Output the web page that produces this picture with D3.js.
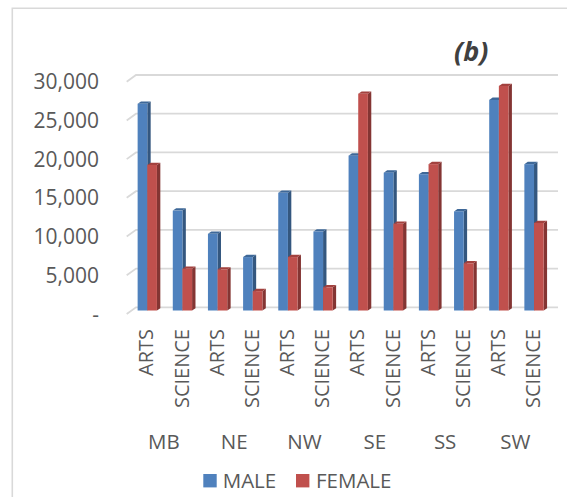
<!DOCTYPE html>
<html>
<head>
<meta charset="utf-8">
<script src="https://cdn.jsdelivr.net/npm/d3@7"></script>
<style>
  html, body { margin: 0; padding: 0; background: #fff; }
  svg { display: block; }
</style>
</head>
<body>
<svg id="chart" width="567" height="497"></svg>
<script>
// ---- data ----
const regions = ["MB", "NE", "NW", "SE", "SS", "SW"];
const subjects = ["ARTS", "SCIENCE"];
const male   = [26700, 12900, 9900, 6900, 15200, 10200, 20000, 17800, 17600, 12800, 27200, 18900];
const female = [18800, 5400, 5300, 2500, 6900, 3000, 28000, 11200, 18900, 6100, 29000, 11300];
const yTicks = [0, 5000, 10000, 15000, 20000, 25000, 30000];
const seriesNames = ["MALE", "FEMALE"];

// ---- build ----
const cats = [];
regions.forEach(r => subjects.forEach(s => cats.push({ region: r, subject: s, key: r + "|" + s })));
cats.forEach((c, i) => { c.male = male[i]; c.female = female[i]; });

const svg = d3.select("#chart");
const FONT = "'Open Sans', 'Noto Sans', sans-serif";
const TXT = "#595959";
const GRID = "#d9d9d9";

svg.append("rect").attr("width", 567).attr("height", 497).attr("fill", "#fff");
// frame
svg.append("path").attr("d", "M12.3,497 L12.3,8.3 L567,8.3")
  .attr("fill", "none").attr("stroke", GRID).attr("stroke-width", 1.6);

// scales
const yBack = d3.scaleLinear().domain([0, 30000]).range([307.3, 75]);
const frontShift = 3.2;               // bar front plane below back wall
const wallDX = 9.3, wallDY = 6.7;     // wall depth offset (front-left)
const backX0 = 136, backX1 = 558;
const x = d3.scaleBand().domain(cats.map(c => c.key)).range([129.7, 551.6]);
const barW = 9.65;
const dDX = 3.4, dDY = -2.3;          // bar depth

// gridlines
const grid = svg.append("g");
yTicks.forEach(v => {
  const yb = yBack(v);
  grid.append("path")
    .attr("d", `M${backX0 - wallDX},${yb + wallDY} L${backX0},${yb} L${backX1},${yb}`)
    .attr("fill", "none").attr("stroke", GRID).attr("stroke-width", 1.8);
});

// y labels
const fmt = d3.format(",");
svg.append("g").selectAll("text").data(yTicks).join("text")
  .attr("x", 99).attr("y", d => yBack(d) + wallDY)
  .attr("dy", "0.36em")
  .attr("text-anchor", "end")
  .attr("font-family", FONT).attr("font-size", 21).attr("fill", TXT)
  .text(d => d === 0 ? "-" : fmt(d));

// bars
const colors = {
  male:   { front: "#4f81bd", side: "#34577f", top: "#3e6898" },
  female: { front: "#c0504d", side: "#843533", top: "#a2413e" }
};
const yFront = v => yBack(v) + frontShift;
const bars = svg.append("g");
function drawBar(x0, v, col) {
  const yb = yFront(0), yt = yFront(v), x1 = x0 + barW;
  // side
  bars.append("path")
    .attr("d", `M${x1},${yb} L${x1 + dDX},${yb + dDY} L${x1 + dDX},${yt + dDY} L${x1},${yt} Z`)
    .attr("fill", col.side);
  // top
  bars.append("path")
    .attr("d", `M${x0},${yt} L${x0 + dDX},${yt + dDY} L${x1 + dDX},${yt + dDY} L${x1},${yt} Z`)
    .attr("fill", col.top);
  // front
  bars.append("rect").attr("x", x0).attr("y", yt).attr("width", barW).attr("height", yb - yt)
    .attr("fill", col.front);
}
cats.forEach(c => {
  const cx = x(c.key) + x.bandwidth() / 2;
  drawBar(cx - barW, c.male, colors.male);
  drawBar(cx, c.female, colors.female);
});

// category labels (rotated)
svg.append("g").selectAll("text").data(cats).join("text")
  .attr("transform", d => `translate(${x(d.key) + x.bandwidth() / 2 - 1},329) rotate(-90)`)
  .attr("text-anchor", "end").attr("dy", "0.36em")
  .attr("font-family", FONT).attr("font-size", 20).attr("fill", TXT)
  .text(d => d.subject);

// region labels
svg.append("g").selectAll("text").data(regions).join("text")
  .attr("x", r => (x(r + "|ARTS") + x(r + "|SCIENCE")) / 2 + x.bandwidth() / 2 - 1)
  .attr("y", 449)
  .attr("text-anchor", "middle")
  .attr("font-family", FONT).attr("font-size", 20.5).attr("fill", TXT)
  .text(r => r);

// legend
const leg = svg.append("g");
const legItems = [
  { name: seriesNames[0], color: colors.male.front, sx: 203.3, tx: 222.7 },
  { name: seriesNames[1], color: colors.female.front, sx: 296, tx: 316 }
];
legItems.forEach(it => {
  leg.append("rect").attr("x", it.sx).attr("y", 474).attr("width", 13.4).attr("height", 13.4).attr("fill", it.color);
  leg.append("text").attr("x", it.tx).attr("y", 488)
    .attr("font-family", FONT).attr("font-size", 20.5).attr("fill", TXT).text(it.name);
});

// title
svg.append("text").attr("x", 454).attr("y", 60.5)
  .attr("font-family", FONT).attr("font-size", 27).attr("font-weight", "bold").attr("font-style", "italic")
  .attr("fill", "#404040").text("(b)");
</script>
</body>
</html>
